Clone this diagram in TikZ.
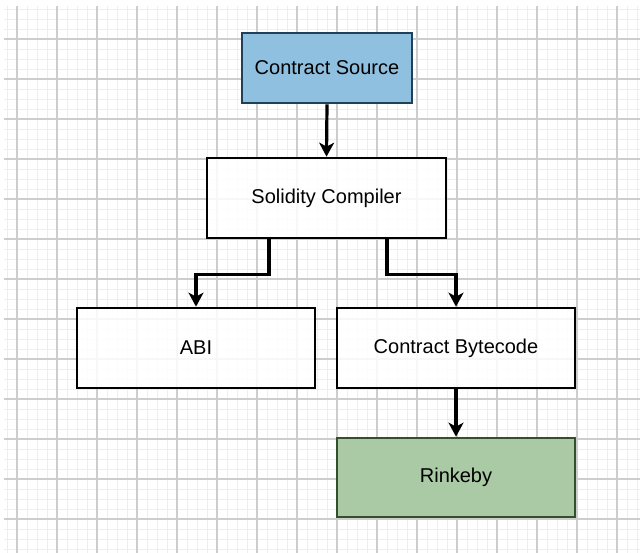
\documentclass[tikz,border=0pt]{standalone}
\usepackage{fontspec}
\setmainfont{Liberation Sans}
\usetikzlibrary{arrows.meta,calc}
\definecolor{gridminor}{HTML}{EEEEEE}
\definecolor{gridmajor}{HTML}{CDCDCD}
\definecolor{srcfill}{HTML}{8FC0E0}
\definecolor{srcdraw}{HTML}{203F58}
\definecolor{rkfill}{HTML}{AAC9A5}
\definecolor{rkdraw}{HTML}{344F2C}
\tikzset{
  box/.style={draw=black, line width=2.7pt, fill=white, fill opacity=0.85, text opacity=1,
    minimum width=238pt, minimum height=80pt, inner sep=0pt,
    font=\fontsize{20}{23}\selectfont},
  conn/.style={line width=3.2pt, -{Stealth[length=14pt,width=15pt,inset=4pt]}},
  minorline/.style={gridminor, line width=0.9pt},
  majorline/.style={gridmajor, line width=1.5pt}
}
\begin{document}
\begin{tikzpicture}[x=1pt,y=-1pt]
\useasboundingbox (0,0) rectangle (640,553);
\fill[white] (0,0) rectangle (640,553);
% background grid
\foreach \x in {7,17,...,637} \draw[minorline] (\x,6) -- (\x,553);
\foreach \y in {9,19,...,549} \draw[minorline] (4,\y) -- (640,\y);
\foreach \x in {17,57,...,617} \draw[majorline] (\x,6) -- (\x,553);
\foreach \y in {39,79,...,519} \draw[majorline] (4,\y) -- (640,\y);
% blocks
\node[box, draw=srcdraw, fill=srcfill, fill opacity=1, minimum width=170pt, minimum height=70pt] (src) at (327,68) {Contract Source};
\node[box, minimum width=239pt] (sol) at (326.5,198) {Solidity Compiler};
\node[box] (abi) at (196,348) {ABI};
\node[box] (byte) at (456,348) {Contract Bytecode};
\node[box, draw=rkdraw, fill=rkfill, fill opacity=1, minimum height=79pt] (rk) at (456,477.5) {Rinkeby};
% connectors
\draw[conn] (src.south) -- (sol.north);
\draw[conn] ([xshift=-57.5pt]sol.south) -- ++(0,35) -| (abi.north);
\draw[conn] ([xshift=60.5pt]sol.south) -- ++(0,35) -| (byte.north);
\draw[conn] (byte.south) -- (rk.north);
\end{tikzpicture}
\end{document}
